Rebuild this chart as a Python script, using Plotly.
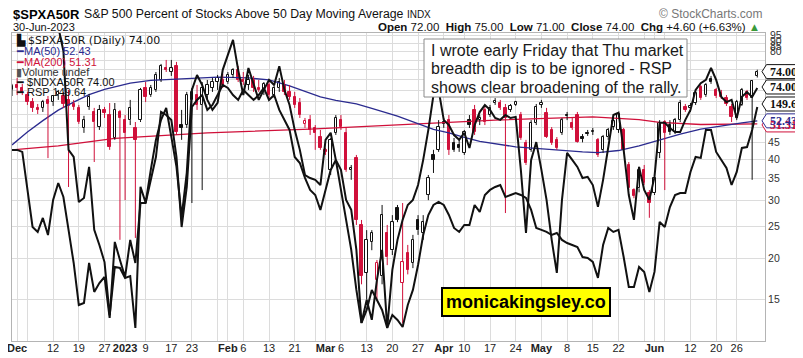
import math
import pandas as pd
import plotly.graph_objects as go

# ---------------- calendar ----------------
holidays = ["2022-12-26", "2023-01-02", "2023-01-16", "2023-02-20",
            "2023-04-07", "2023-05-29", "2023-06-19"]
dates = pd.bdate_range("2022-11-30", "2023-06-30", freq="C", holidays=holidays)
date_str = [d.strftime("%Y-%m-%d") for d in dates]
days = list(range(len(dates)))

tick_dates = ["2022-12-01", "2022-12-05", "2022-12-12", "2022-12-19", "2022-12-27",
              "2023-01-03", "2023-01-09", "2023-01-17", "2023-01-23", "2023-01-30",
              "2023-02-01", "2023-02-06", "2023-02-13", "2023-02-21", "2023-02-27",
              "2023-03-01", "2023-03-06", "2023-03-13", "2023-03-20", "2023-03-27",
              "2023-04-03", "2023-04-10", "2023-04-17", "2023-04-24", "2023-05-01",
              "2023-05-08", "2023-05-15", "2023-05-22", "2023-05-30", "2023-06-01",
              "2023-06-05", "2023-06-12", "2023-06-20", "2023-06-26"]
tick_labels = ["<b>Dec</b>", "", "12", "19", "27", "<b>2023</b>", "9", "17", "23", "",
               "<b>Feb</b>", "6", "13", "21", "", "<b>Mar</b>", "6", "13", "20", "27",
               "<b>Apr</b>", "10", "17", "24", "<b>May</b>", "8", "15", "22", "",
               "<b>Jun</b>", "", "12", "20", "26"]

# ---------------- $SPXA50R daily OHLC ----------------
spx_open = [65.1, 67.4, 66.0, 62.8, 59.8, 57.4, 57.4, 60.7, 59.8, 62.8,
            62.4, 60.7, 59.0, 57.4, 49.9, 57.8, 55.8, 50.2, 56.6, 54.6,
            46.5, 55.8, 52.7, 52.7, 49.9, 52.7, 66.0, 62.8, 65.1, 69.8,
            75.8, 73.8, 77.0, 50.9, 50.9, 60.7, 62.8, 58.6, 62.8, 66.0,
            68.8, 69.8, 68.8, 72.3, 74.85, 69.8, 67.4, 69.8, 66.0, 65.1,
            67.4, 62.8, 66.0, 67.4, 64.2, 62.0, 59.4, 51.3, 52.7, 49.9,
            46.8, 42.8, 37.2, 48.2, 52.7, 48.2, 37.2, 40.4, 25.3, 18.1,
            22.5, 17.2, 17.7, 23.9, 21.2, 28.5, 16.9, 20.8, 19.4, 26.2,
            23.9, 31.2, 41.3, 42.8, 52.0, 52.7, 44.9, 44.3, 41.9, 52.7,
            56.6, 52.7, 56.6, 54.6, 59.4, 59.4, 57.4, 56.6, 58.6, 54.6,
            44.9, 42.8, 51.7, 58.6, 55.4, 49.2, 45.9, 48.2, 54.6, 51.7,
            54.6, 46.8, 48.2, 48.5, 45.9, 42.8, 46.8, 50.2, 49.2, 49.2,
            38.5, 32.3, 32.7, 37.2, 31.6, 31.6, 41.9, 52.0, 50.9, 48.5,
            52.7, 57.8, 57.4, 59.4, 66.5, 62.8, 70.3, 65.1, 63.7, 61.5,
            57.8, 53.5, 58.6, 64.2, 61.5, 72.0]
spx_high = [67.9, 70.8, 67.9, 64.2, 61.5, 59.0, 60.7, 62.4, 62.8, 65.1,
            64.2, 65.1, 60.7, 58.6, 54.3, 63.3, 57.4, 58.6, 57.8, 59.4,
            59.4, 56.6, 54.6, 60.7, 52.0, 66.0, 68.8, 67.4, 73.8, 78.1,
            80.3, 80.3, 79.2, 56.6, 64.2, 66.0, 67.4, 68.8, 69.8, 70.8,
            72.3, 72.8, 73.8, 75.8, 77.0, 73.8, 72.3, 71.8, 69.8, 68.8,
            69.8, 67.4, 70.8, 69.8, 67.4, 64.2, 61.5, 53.5, 54.6, 50.9,
            49.2, 43.4, 46.5, 54.6, 54.6, 49.9, 38.5, 41.3, 26.2, 24.4,
            24.4, 19.8, 29.1, 25.3, 27.1, 29.1, 29.5, 22.0, 23.6, 27.1,
            27.1, 35.9, 42.8, 52.7, 53.5, 54.6, 46.5, 45.9, 49.2, 54.6,
            58.6, 54.6, 58.6, 58.6, 61.5, 60.7, 59.0, 59.0, 60.3, 55.8,
            45.9, 52.7, 59.0, 60.7, 57.4, 50.2, 46.8, 53.5, 55.8, 53.5,
            55.8, 47.8, 49.2, 49.9, 46.5, 47.5, 49.9, 53.5, 55.8, 49.9,
            39.3, 32.7, 38.0, 38.5, 32.3, 35.9, 52.7, 52.7, 52.7, 53.5,
            60.7, 59.0, 59.4, 65.1, 67.4, 68.35, 71.8, 66.0, 65.1, 62.8,
            59.0, 60.7, 66.0, 65.1, 69.8, 75.0]
spx_low = [62.4, 62.8, 62.8, 58.6, 55.8, 55.0, 55.8, 40.4, 58.2, 60.7,
           57.4, 33.0, 56.6, 51.3, 48.2, 56.6, 39.3, 49.2, 53.5, 42.8,
           45.9, 22.8, 30.1, 50.9, 23.1, 52.0, 59.8, 62.0, 64.2, 68.8,
           73.8, 71.8, 47.5, 45.9, 49.9, 29.5, 56.6, 32.3, 60.7, 64.2,
           65.1, 66.0, 67.9, 70.8, 68.8, 67.4, 65.1, 64.2, 64.2, 62.8,
           60.7, 61.5, 64.2, 62.8, 60.7, 57.4, 53.5, 49.9, 47.5, 42.8,
           42.8, 41.3, 35.9, 47.5, 49.2, 36.7, 34.7, 25.3, 16.7, 15.0,
           21.2, 15.0, 16.7, 19.1, 20.5, 25.8, 12.7, 17.9, 18.7, 23.6,
           22.8, 30.1, 36.4, 42.2, 49.9, 41.3, 42.2, 42.2, 41.3, 49.9,
           47.5, 50.9, 50.9, 53.9, 58.6, 56.6, 27.5, 55.8, 58.2, 45.9,
           38.5, 42.2, 50.9, 57.4, 46.5, 44.3, 42.8, 47.5, 52.7, 49.2,
           44.9, 45.1, 47.2, 47.5, 40.7, 41.9, 45.9, 49.2, 48.2, 42.2,
           32.3, 30.5, 31.8, 33.5, 26.6, 31.2, 40.4, 32.3, 47.5, 47.8,
           52.0, 55.8, 55.8, 58.6, 60.7, 62.0, 67.9, 61.5, 61.1, 58.2,
           52.0, 52.7, 58.2, 60.7, 34.7, 71.0]
spx_close = [66.9, 66.0, 64.2, 59.8, 57.4, 56.6, 59.8, 59.0, 62.4, 64.2,
             59.0, 58.2, 57.8, 52.0, 52.7, 62.0, 52.0, 56.6, 55.4, 43.7,
             56.6, 53.5, 48.2, 57.4, 45.9, 65.1, 62.0, 66.0, 72.3, 77.0,
             74.85, 75.8, 48.5, 49.9, 62.8, 64.2, 58.6, 66.0, 67.4, 68.8,
             70.8, 67.4, 72.3, 74.85, 69.8, 68.8, 69.8, 66.0, 65.1, 67.9,
             62.8, 66.0, 68.8, 64.2, 62.0, 58.6, 54.6, 52.4, 49.2, 48.2,
             43.4, 42.2, 45.9, 53.5, 50.2, 37.2, 37.7, 26.2, 17.7, 22.8,
             23.9, 19.4, 27.1, 20.2, 25.8, 26.2, 19.5, 18.5, 22.8, 24.4,
             25.8, 35.1, 39.9, 50.2, 51.3, 42.8, 42.8, 43.4, 48.5, 50.9,
             48.5, 53.5, 52.0, 57.4, 60.3, 57.4, 53.5, 58.2, 59.8, 46.5,
             39.0, 51.7, 57.8, 59.4, 46.8, 44.9, 43.4, 52.7, 54.3, 49.9,
             45.1, 46.2, 47.8, 48.8, 41.3, 46.8, 49.2, 52.4, 55.0, 42.8,
             32.7, 31.0, 37.2, 33.9, 29.5, 35.1, 51.7, 48.2, 48.5, 52.7,
             59.4, 56.6, 58.2, 63.7, 61.5, 67.4, 68.8, 62.4, 62.0, 59.0,
             53.9, 59.8, 65.1, 61.5, 69.4, 74.0]

# ---------------- moving averages of $SPXA50R ----------------
ma50_days = [0, 3, 6, 9, 12, 15, 18, 23, 27, 34, 40, 46, 50, 54, 60, 63, 67, 70,
             75, 82, 85, 88, 91, 98, 105, 111, 114, 118, 122, 126, 130, 134, 138, 142, 145]
ma50_vals = [44.3, 48.5, 52.5, 56.5, 59.8, 63.0, 65.3, 68.3, 69.6, 70.6, 71.2, 70.8,
             69.8, 67.0, 62.0, 60.5, 59.0, 57.2, 54.2, 49.4, 48.2, 46.7, 45.4, 43.7,
             42.8, 42.2, 42.0, 42.6, 44.0, 45.9, 47.8, 49.5, 50.7, 51.7, 52.43]
ma200_days = [0, 9, 20, 38, 58, 75, 94, 113, 122, 126, 134, 145]
ma200_vals = [42.8, 44.0, 46.4, 48.2, 49.5, 50.9, 52.7, 53.9, 52.9, 51.9, 51.1, 51.31]

# ---------------- overlays ----------------
ndx = [92.0, 92.5, 91.5, 91.0, 92.0, 91.5, 91.0, 92.0, 91.5, 90.5,
       84.0, 57.3, 55.4, 43.2, 44.3, 52.7, 35.7, 31.6, 27.0, 12.7,
       25.7, 25.4, 22.7, 23.2, 9.2, 47.3, 43.0, 51.9, 60.0, 65.4,
       68.6, 60.8, 52.7, 39.2, 51.1, 73.5, 77.5, 74.8, 70.8, 68.1,
       70.0, 78.9, 82.9, 87.0, 78.9, 72.1, 79.4, 74.8, 70.8, 73.5,
       76.2, 74.8, 79.9, 73.5, 69.4, 62.7, 57.3, 50.5, 49.7, 49.2,
       47.8, 60.0, 61.9, 54.6, 51.9, 43.8, 41.1, 30.3, 10.6, 16.8,
       11.4, 22.2, 30.3, 9.2, 24.9, 33.0, 38.4, 42.4, 43.8, 47.8,
       54.6, 62.7, 72.1, 73.5, 65.4, 64.0, 61.3, 60.0, 61.9, 57.8,
       64.0, 67.5, 69.4, 68.1, 65.9, 65.4, 66.7, 65.9, 66.2, 51.9,
       34.9, 54.6, 59.4, 51.9, 43.8, 33.0, 24.1, 43.8, 56.5, 54.6,
       52.7, 49.7, 50.0, 47.8, 41.9, 49.2, 58.6, 66.7, 67.3, 57.3,
       45.1, 38.4, 52.7, 46.5, 43.8, 50.0, 64.6, 64.6, 63.2, 62.1,
       62.1, 65.4, 68.1, 73.5, 75.3, 76.2, 79.4, 76.2, 71.6, 70.2,
       70.8, 65.9, 71.6, 72.9, 71.6, 74.0]
rsp = [146.85, 146.85, 146.72, 144.25, 141.84, 141.52, 142.43, 141.32, 143.60, 144.70,
       143.79, 141.65, 139.50, 136.77, 136.90, 139.50, 137.62, 138.20, 138.59, 135.93,
       140.87, 139.70, 138.59, 141.00, 139.50, 143.40, 143.40, 144.89, 146.39, 149.32,
       149.12, 148.80, 146.39, 141.84, 144.44, 149.64, 150.10, 150.42, 149.45, 149.77,
       150.42, 151.07, 150.88, 150.42, 150.10, 150.75, 150.42, 150.10, 150.42, 150.88,
       150.10, 150.42, 149.45, 148.80, 148.15, 146.39, 146.00, 145.03, 144.25, 143.92,
       142.95, 144.25, 145.55, 146.20, 144.25, 142.30, 140.35, 137.75, 135.60, 136.45,
       137.75, 137.10, 136.45, 135.28, 136.12, 135.80, 135.34, 136.77, 137.75, 139.37,
       141.32, 142.62, 143.27, 143.47, 143.27, 142.62, 141.78, 141.52, 141.97, 141.97,
       143.27, 142.82, 143.92, 144.25, 144.44, 144.57, 143.79, 143.92, 144.05, 143.92,
       143.73, 142.95, 141.78, 141.65, 141.52, 141.32, 141.45, 141.00, 140.80, 140.67,
       140.54, 139.89, 139.83, 139.57, 138.53, 140.67, 141.78, 141.52, 141.65, 139.89,
       137.94, 137.94, 139.24, 138.92, 137.62, 138.92, 142.17, 141.84, 143.14, 143.92,
       144.05, 144.05, 145.42, 146.39, 146.33, 148.15, 148.15, 146.72, 146.20, 145.68,
       144.57, 145.42, 146.98, 147.04, 148.15, 149.64]

y_ticks = [15, 20, 25, 30, 35, 40, 45, 50, 55, 60, 65, 70, 75, 80, 85, 90, 95]
y_tick_text = ["15", "20", "25", "30", "35", "40", "45"] + [""] * 10
crowded_labels = ["95", "90", "85", "80"]
comment_lines = ["I wrote early Friday that Thu market",
                 "breadth dip is to be ignored - RSP",
                 "shows clear broadening of the rally."]

# ---------------- geometry / styling ----------------
RED = "#d0103a"
BLUE = "#2b2b8f"
INK = "#111111"
FONT = "Arial, Liberation Sans, sans-serif"
OFF = 8                      # the page body margin shifts the figure by 8 px
W, H = 803 - OFF, 358 - OFF
PL, PT, PR, PB = 12, 33, 765, 341   # plot box in page pixels
PW, PH = PR - PL, PB - PT
YLO, YHI = 11.23, 96.96
NDX_RANGE = [5.69, 88.85]
RSP_RANGE = [134.43, 154.45]


def px(x):
    return (x - PL) / PW


def py(y):
    return (PB - y) / PH


def page_y_main(v):
    return PT + (math.log10(YHI) - math.log10(v)) / (math.log10(YHI) - math.log10(YLO)) * PH


def page_y_lin(v, rng):
    return PT + (rng[1] - v) / (rng[1] - rng[0]) * PH


tick_pos = [date_str.index(d) for d in tick_dates]
prev_close = [spx_open[0]] + spx_close[:-1]

fig = go.Figure()
fig.add_trace(go.Scatter(x=ma200_days, y=ma200_vals, mode="lines",
                         line=dict(color=RED, width=1.3), hoverinfo="skip"))
fig.add_trace(go.Scatter(x=ma50_days, y=ma50_vals, mode="lines",
                         line=dict(color=BLUE, width=1.3), hoverinfo="skip"))

# candles: colour by close vs previous close, hollow when close > open
for color, cond in ((RED, lambda i: spx_close[i] < prev_close[i]),
                    (INK, lambda i: spx_close[i] >= prev_close[i])):
    idx = [i for i in days if cond(i)]
    wx, wy = [], []
    for i in idx:
        top, bot = max(spx_open[i], spx_close[i]), min(spx_open[i], spx_close[i])
        wx += [i, i, None, i, i, None]
        wy += [spx_high[i], top, None, bot, spx_low[i], None]
    fig.add_trace(go.Scatter(x=wx, y=wy, mode="lines", line=dict(color=color, width=1),
                             hoverinfo="skip"))
    for hollow in (True, False):
        sub = [i for i in idx if (spx_close[i] > spx_open[i]) == hollow]
        if not sub:
            continue
        base = [min(spx_open[i], spx_close[i]) for i in sub]
        hgt = [max(abs(spx_close[i] - spx_open[i]), 0.12) for i in sub]
        fig.add_trace(go.Bar(x=sub, y=hgt, base=base, width=0.46,
                             marker=dict(color="white" if hollow else color,
                                         line=dict(color=color, width=1)),
                             hoverinfo="skip"))

fig.add_trace(go.Scatter(x=days, y=ndx, yaxis="y2", mode="lines",
                         line=dict(color=INK, width=2), hoverinfo="skip"))
fig.add_trace(go.Scatter(x=days, y=rsp, yaxis="y3", mode="lines",
                         line=dict(color=INK, width=2), hoverinfo="skip"))

fig.update_layout(
    width=W, height=H, template="none", barmode="overlay", bargap=0,
    margin=dict(l=PL - OFF, r=803 - PR, t=PT - OFF, b=358 - PB, autoexpand=False),
    paper_bgcolor="white", plot_bgcolor="white", showlegend=False,
    xaxis=dict(range=[0, 146.5], tickmode="array", tickvals=tick_pos, ticktext=tick_labels,
               showgrid=True, gridcolor="#dcdcdc", gridwidth=1, zeroline=False,
               showline=True, linecolor="#b4b4b4", mirror=True, ticks="",
               ticklabeloverflow="allow", ticklabelstandoff=-3,
               tickfont=dict(family=FONT, size=11, color="#222"), automargin=False),
    yaxis=dict(type="log", range=[math.log10(YLO), math.log10(YHI)], side="right",
               tickmode="array", tickvals=y_ticks, ticktext=y_tick_text,
               showgrid=True, gridcolor="#dcdcdc", zeroline=False,
               showline=True, linecolor="#b4b4b4", mirror=True, ticks="",
               tickfont=dict(family=FONT, size=10.5, color="#333"), automargin=False),
    yaxis2=dict(overlaying="y", range=NDX_RANGE, visible=False),
    yaxis3=dict(overlaying="y", range=RSP_RANGE, visible=False),
)

ann, shapes = [], []
# header
HY = 14.5
ann.append(dict(x=px(11), y=py(HY), xref="paper", yref="paper", xanchor="left", yanchor="middle",
                text="<b>$SPXA50R</b>", showarrow=False, font=dict(family=FONT, size=13, color="#000")))
ann.append(dict(x=px(82), y=py(HY), xref="paper", yref="paper", xanchor="left", yanchor="middle",
                text="S&P 500 Percent of Stocks Above 50 Day Moving Average <span style='font-size:10px'>INDX</span>",
                showarrow=False, font=dict(family=FONT, size=12.3, color="#111")))
ann.append(dict(x=px(11), y=py(26.5), xref="paper", yref="paper", xanchor="left", yanchor="middle",
                text="30-Jun-2023", showarrow=False, font=dict(family=FONT, size=11, color="#111")))
ann.append(dict(x=px(765), y=py(HY), xref="paper", yref="paper", xanchor="right", yanchor="middle",
                text="© StockCharts.com", showarrow=False, font=dict(family=FONT, size=12, color="#777")))
ann.append(dict(x=px(762), y=py(26.5), xref="paper", yref="paper", xanchor="right", yanchor="middle",
                text="<b>Open</b> 72.00  <b>High</b> 75.00  <b>Low</b> 71.00  <b>Close</b> 74.00  "
                     "<b>Chg</b> +4.60 (+6.63%) <span style='color:#3a9a3a'>▲</span>",
                showarrow=False, font=dict(family=FONT, size=11.5, color="#111")))
# legend block
leg = [("▙ <span style='font-family:DejaVu Sans'>$SPXA50R (Daily) 74.00</span>", INK, 40),
       ("<span style='color:%s'>━</span>MA(50) 52.43" % BLUE, BLUE, 51),
       ("<span style='color:%s'>━</span>MA(200) 51.31" % RED, RED, 61.5),
       ("<span style='color:#555'>▮</span>Volume undef", "#333", 72),
       ("━ $NDXA50R 74.00", INK, 82),
       ("━ RSP 149.64", INK, 92)]
for text, col, yy in leg:
    ann.append(dict(x=px(14), y=py(yy), xref="paper", yref="paper", xanchor="left", yanchor="middle",
                    text=text, showarrow=False, font=dict(family=FONT, size=11, color=col)))
# crowded scale labels at the top of the price axis
for lab, yy in zip(crowded_labels, [35, 40.5, 46, 51.5]):
    ann.append(dict(x=px(768), y=py(yy), xref="paper", yref="paper", xanchor="left", yanchor="middle",
                    text=lab, showarrow=False, font=dict(family=FONT, size=10.5, color="#333")))
# value tags on the right (pointer boxes)
tags = [("51.31", page_y_main(51.31) + 1, RED),
        ("52.43", page_y_main(52.43), BLUE),
        ("149.64", page_y_lin(149.64, RSP_RANGE) - 3, INK),
        ("74.00", page_y_lin(74.0, NDX_RANGE) - 1, INK),
        ("74.00", page_y_main(74.0), INK)]
for text, yy, col in tags:
    pts = [(762, yy), (766.5, yy - 7), (803, yy - 7), (803, yy + 7), (766.5, yy + 7)]
    path = "M " + " L ".join("%.5f,%.5f" % (px(a), py(b)) for a, b in pts) + " Z"
    shapes.append(dict(type="path", xref="paper", yref="paper", path=path,
                       fillcolor="white", line=dict(color=col, width=1)))
    ann.append(dict(x=px(768), y=py(yy), xref="paper", yref="paper", xanchor="left", yanchor="middle",
                    text="<b>%s</b>" % text, showarrow=False,
                    font=dict(family="Liberation Serif, serif", size=12, color=col)))
# comment box
shapes.append(dict(type="rect", xref="paper", yref="paper", x0=px(424), x1=px(687),
                   y0=py(97), y1=py(39), fillcolor="white", line=dict(color="#8a8a8a", width=1)))
for k, line in enumerate(comment_lines):
    ann.append(dict(x=px(429), y=py(50 + 18.6 * k), xref="paper", yref="paper",
                    xanchor="left", yanchor="middle", text=line, showarrow=False,
                    font=dict(family=FONT, size=16, color="#1a1a1a")))
# watermark
ann.append(dict(x=px(526), y=py(302), xref="paper", yref="paper", xanchor="center", yanchor="middle",
                text="<b>monicakingsley.co</b>", showarrow=False, bgcolor="#ffff00",
                bordercolor="#000", borderwidth=2, borderpad=3,
                font=dict(family=FONT, size=18, color="#000")))
fig.update_layout(annotations=ann, shapes=shapes)

fig.write_html("out.html")
